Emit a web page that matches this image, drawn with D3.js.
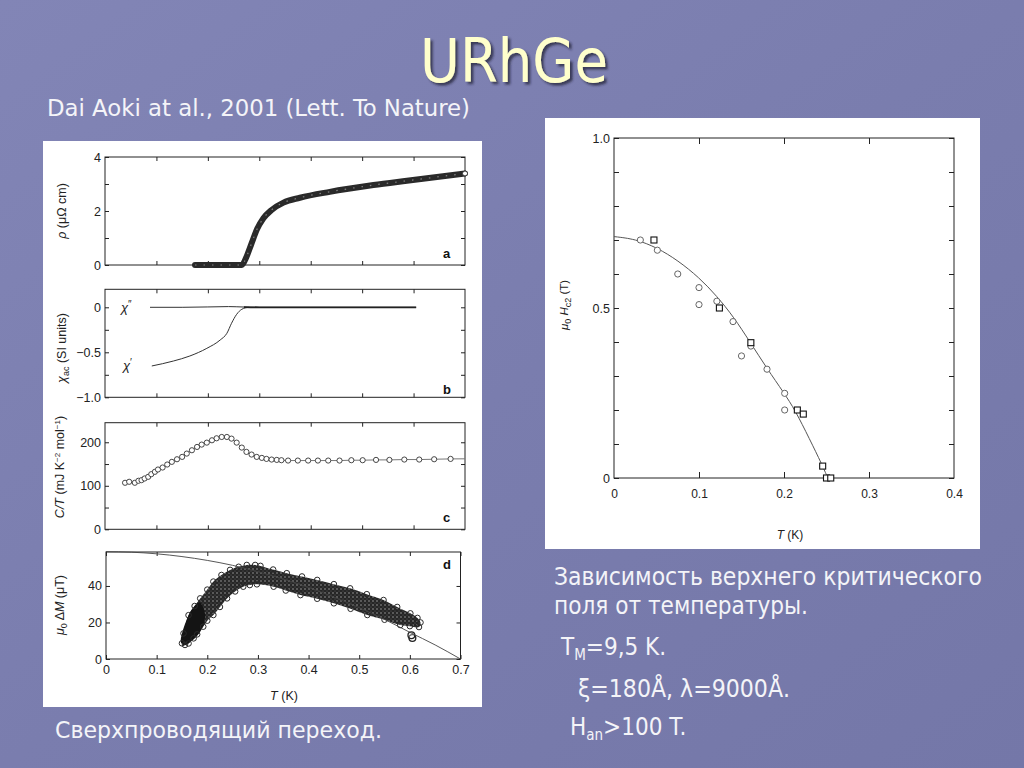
<!DOCTYPE html>
<html><head><meta charset="utf-8">
<script src="https://cdn.jsdelivr.net/npm/d3@7"></script>
<style>body{margin:0;overflow:hidden;background:#7a7cab}</style>
</head><body><svg id="c" width="1024" height="768"></svg>
<script>
// ---------- DATA ----------
// panel a: resistivity
const rhoT = [0.175,0.20,0.23,0.266,0.275,0.285,0.295,0.308,0.324,0.347,0.379,0.437,0.522,0.587,0.70];
const rhoV = [0,0,0,0,0.3,0.8,1.3,1.73,2.04,2.31,2.49,2.71,2.96,3.12,3.39];
// panel b: ac susceptibility
const chi1T = [0.091,0.133,0.165,0.198,0.224,0.237,0.246,0.256,0.266,0.279];
const chi1V = [-0.652,-0.597,-0.541,-0.456,-0.363,-0.289,-0.178,-0.078,-0.022,0];
const chi2T = [0.0875,0.15,0.20,0.24,0.27,0.30,0.40,0.50,0.605];
const chi2V = [0,0,0.004,0.008,0.003,0,0,0,0];
// panel c: C/T
const cT = [0.039,0.047,0.058,0.065,0.071,0.077,0.084,0.090,0.097,0.103,0.112,0.121,0.130,0.140,0.150,0.159,0.169,0.179,0.188,0.198,0.208,0.217,0.227,0.237,0.246,0.256,0.266,0.275,0.285,0.295,0.305,0.314,0.324,0.334,0.343,0.356,0.375,0.395,0.414,0.434,0.456,0.479,0.501,0.527,0.553,0.582,0.611,0.640,0.672,0.70];
const cV = [106.9,109.2,106.9,111.5,113,116.8,120.6,126.7,132.1,137.4,142,148.9,155,161,166.4,174,181.7,189.3,194.7,199.2,204.6,209.2,212.2,212.2,208.4,199.2,187.8,177.9,171.8,166.4,164.1,161.8,160.3,159.5,158.8,158,158,158,158,158,158,158.8,158.8,159.5,159.5,160.3,160.3,161,161.8,162];
// panel d: magnetisation cloud outline and line
const dmEdgeT = [0.150,0.153,0.163,0.175,0.186,0.200,0.212,0.228,0.245,0.262,0.278,0.2945,0.305,0.330,0.357,0.387,0.417,0.450,0.482,0.515,0.548,0.575,0.601,0.615,0.621,0.618,0.600,0.581,0.550,0.516,0.483,0.450,0.417,0.384,0.355,0.331,0.298,0.284,0.271,0.255,0.239,0.225,0.212,0.200,0.192,0.180,0.173,0.163,0.156];
const dmEdgeV = [8.6,14,24,29,33.2,38,42.4,46,48.8,50.5,51.5,51.5,51,49,47,45.2,43.3,41,38.7,35.5,32.3,28.5,25,22.5,20,17.5,18,18.6,21.5,24.1,27.5,30.5,33,35,37.5,39.6,40.9,40.5,39.6,37,33.2,28.5,24.1,21,17.7,13.5,11.3,8.5,7.7];
const dmDarkT = [0.148,0.160,0.172,0.185,0.196,0.190,0.178,0.165,0.155];
const dmDarkV = [9,22,28,31,24,17,12,9,7.5];
const dmExtraT = [0.605,0.603];
const dmExtraV = [11.5,13];
const dmLineT = [0,0.05,0.1,0.15,0.2,0.25,0.3,0.35,0.4,0.45,0.5,0.55,0.6,0.65,0.7];
const dmLineV = [58.8,58.5,57.6,56.1,54.0,51.3,47.8,43.8,39.2,33.9,28.1,21.7,14.6,7.7,0];
// right panel: Hc2
const hcCircT = [0.031,0.051,0.075,0.100,0.100,0.121,0.140,0.150,0.161,0.180,0.2008,0.2008];
const hcCircV = [0.70,0.67,0.60,0.56,0.51,0.52,0.46,0.359,0.388,0.32,0.249,0.20];
const hcSqT = [0.047,0.124,0.161,0.2157,0.2227,0.2455,0.250,0.255];
const hcSqV = [0.70,0.50,0.398,0.20,0.188,0.035,0,0];
const hcFitT = [0,0.025,0.051,0.075,0.1,0.121,0.141,0.16,0.18,0.2,0.213,0.23,0.245,0.2515];
const hcFitV = [0.71,0.703,0.677,0.64,0.59,0.535,0.473,0.40,0.322,0.25,0.20,0.115,0.038,0];
// ticks
const tTicksLeft = [0,0.1,0.2,0.3,0.4,0.5,0.6,0.7];
const aMajor=[0,2,4], aMinor=[1,3];
const bMajor=[0,-0.5,-1.0], bMinor=[-0.25,-0.75];
const cMajor=[0,100,200], cMinor=[50,150];
const dMajor=[0,20,40], dMinor=[];
const hcXTicks=[0,0.1,0.2,0.3,0.4];
const hcYMajor=[0,0.5,1.0], hcYMinor=[0.1,0.2,0.3,0.4,0.6,0.7,0.8,0.9];

// ---------- DRAW ----------
const svg = d3.select("#c");
const defs = svg.append("defs");
const bg = defs.append("linearGradient").attr("id","bg").attr("x1",0).attr("y1",0).attr("x2",1).attr("y2",1);
bg.append("stop").attr("offset",0).attr("stop-color","#8285b6");
bg.append("stop").attr("offset",0.5).attr("stop-color","#7a7dae");
bg.append("stop").attr("offset",1).attr("stop-color","#7477a8");
const pat = defs.append("pattern").attr("id","rings").attr("width",4).attr("height",4).attr("patternUnits","userSpaceOnUse");
pat.append("rect").attr("width",4).attr("height",4).attr("fill","#262626");
pat.append("circle").attr("cx",1).attr("cy",1).attr("r",0.75).attr("fill","#a5a5a5");
pat.append("circle").attr("cx",3).attr("cy",3).attr("r",0.5).attr("fill","#6a6a6a");
const sh = defs.append("filter").attr("id","tsh").attr("x","-10%").attr("y","-10%").attr("width","130%").attr("height","130%");
sh.append("feDropShadow").attr("dx",2.5).attr("dy",2.5).attr("stdDeviation",0.8).attr("flood-color","#202035").attr("flood-opacity",0.75);

svg.append("rect").attr("width",1024).attr("height",768).attr("fill","url(#bg)");

const slideFont = "'DejaVu Sans Condensed','DejaVu Sans',sans-serif";
const plotFont = "'Liberation Sans',Arial,sans-serif";

// title
svg.append("text").attr("x",514).attr("y",82).attr("text-anchor","middle")
  .attr("font-family",slideFont).attr("font-size",60).attr("fill","#ffffcc").attr("filter","url(#tsh)")
  .attr("textLength",188).attr("lengthAdjust","spacingAndGlyphs").text("URhGe");
function slideText(x,y,w,str,size){
  return svg.append("text").attr("x",x).attr("y",y).attr("font-family",slideFont)
    .attr("font-size",size||23).attr("fill","#f4f4f8")
    .attr("textLength",w).attr("lengthAdjust","spacingAndGlyphs").text(str);
}
slideText(47,116,423,"Dai Aoki at al., 2001 (Lett. To Nature)");
slideText(55,738,327,"Сверхпроводящий переход.");
slideText(554,585,428,"Зависимость верхнего критического",24);
slideText(554,614,254,"поля от температуры.",24);
const tm = svg.append("text").attr("x",561).attr("y",655).attr("font-family",slideFont).attr("font-size",24).attr("fill","#f4f4f8");
tm.append("tspan").text("T");
tm.append("tspan").attr("font-size",15).attr("dy",5).text("M");
tm.append("tspan").attr("dy",-5).text("=9,5 K.");
slideText(578,697,212,"ξ=180Å, λ=9000Å.",24);
const han = svg.append("text").attr("x",570).attr("y",735).attr("font-family",slideFont).attr("font-size",24).attr("fill","#f4f4f8");
han.append("tspan").text("H");
han.append("tspan").attr("font-size",15).attr("dy",5).text("an");
han.append("tspan").attr("dy",-5).text(">100 T.");

// panels
svg.append("rect").attr("x",43).attr("y",141).attr("width",439).attr("height",566).attr("fill","#fff");
svg.append("rect").attr("x",545).attr("y",118).attr("width",435).attr("height",431).attr("fill","#fff");

function frame(g, x, y, xt, yMaj, yMin, fmt, L, showX){
  const [x0,x1]=x.range(), [y0,y1]=y.range();
  const st = sel=>{sel.select(".domain").remove(); sel.selectAll("line").attr("stroke","#222");
    sel.selectAll("text").attr("font-family",plotFont).attr("font-size",12.5).attr("fill","#222");};
  g.append("g").attr("transform",`translate(${x0},0)`).call(d3.axisLeft(y).tickValues(yMaj).tickSize(-L.y).tickPadding(4).tickFormat(fmt)).call(st);
  g.append("g").attr("transform",`translate(${x0},0)`).call(d3.axisLeft(y).tickValues(yMin).tickSize(-L.ym).tickFormat("")).call(st);
  g.append("g").attr("transform",`translate(${x1},0)`).call(d3.axisRight(y).tickValues(yMaj.concat(yMin)).tickSize(-L.y).tickFormat("")).call(st);
  g.append("g").attr("transform",`translate(0,${y0})`).call(d3.axisBottom(x).tickValues(xt).tickSize(-L.x).tickPadding(L.pad||6).tickFormat(showX?L.xf:"")).call(st);
  g.append("g").attr("transform",`translate(0,${y1})`).call(d3.axisTop(x).tickValues(xt).tickSize(-L.x).tickFormat("")).call(st);
  g.append("rect").attr("x",x0).attr("y",y1).attr("width",x1-x0).attr("height",y0-y1).attr("fill","none").attr("stroke","#222").attr("stroke-width",1);
}
function yLabel(x,y,build){
  const t = svg.append("text").attr("transform",`translate(${x},${y}) rotate(-90)`).attr("text-anchor","middle")
    .attr("font-family",plotFont).attr("font-size",12.5).attr("fill","#222");
  build(t); return t;
}
function panelLetter(x,y,s){svg.append("text").attr("x",x).attr("y",y).attr("font-family",plotFont).attr("font-weight","bold").attr("font-size",13).attr("fill","#111").text(s);}
const fx = d3.scaleLinear().domain([0,0.7]).range([105,465]);
const innerTicks = tTicksLeft.slice(1,-1);
const xf = d=> d===0?"0":d3.format(".1f")(d);

// ---- a ----
const ya = d3.scaleLinear().domain([0,4]).range([265,157]);
const ga = svg.append("g");
frame(ga,fx,ya,innerTicks,aMajor,aMinor,d3.format("d"),{x:4,y:4,ym:4},false);
const lineA = d3.line().x(i=>fx(rhoT[i])).y(i=>ya(rhoV[i])).curve(d3.curveMonotoneX);
const idxA = d3.range(rhoT.length);
ga.append("path").attr("d",lineA(idxA)).attr("fill","none").attr("stroke","#2a2a2a").attr("stroke-width",6).attr("stroke-linecap","round");
ga.append("path").attr("d",lineA(idxA)).attr("fill","none").attr("stroke","#aaa").attr("stroke-width",1.2).attr("stroke-dasharray","1.5 7").attr("opacity",0.7);
ga.append("circle").attr("cx",fx(rhoT[rhoT.length-1])).attr("cy",ya(rhoV[rhoV.length-1])).attr("r",2.5).attr("fill","#fff").attr("stroke","#333");
yLabel(66,211,t=>{t.append("tspan").attr("font-style","italic").text("ρ");t.append("tspan").text("  (μΩ cm)");});
panelLetter(443,258,"a");

// ---- b ----
const yb = d3.scaleLinear().domain([-1.0,0.2]).range([397.3,289.3]);
const gb = svg.append("g");
frame(gb,fx,yb,innerTicks,bMajor,bMinor,d=>d===0?"0":d3.format(".1f")(d),{x:4,y:4,ym:4},false);
const lineB = d3.line().curve(d3.curveMonotoneX);
gb.append("path").attr("d",lineB(chi1T.map((t,i)=>[fx(t),yb(chi1V[i])]))).attr("fill","none").attr("stroke","#333").attr("stroke-width",1);
gb.append("path").attr("d",lineB(chi2T.map((t,i)=>[fx(t),yb(chi2V[i])]))).attr("fill","none").attr("stroke","#333").attr("stroke-width",1);
gb.append("path").attr("d",lineB(chi2T.map((t,i)=>[t,chi2V[i]]).filter(p=>p[0]>=0.27).map(p=>[fx(p[0]),yb(p[1])]))).attr("fill","none").attr("stroke","#222").attr("stroke-width",1.8);
[[121,312,"″"],[123,370,"′"]].forEach(([x,y,s])=>{
  const t=svg.append("text").attr("x",x).attr("y",y).attr("font-family",plotFont).attr("font-size",13).attr("fill","#222");
  t.append("tspan").attr("font-style","italic").text("χ"); t.append("tspan").attr("font-size",10).attr("dy",-4).text(s);
});
yLabel(66,348,t=>{t.append("tspan").attr("font-style","italic").text("χ");t.append("tspan").attr("font-size",9).attr("dy",3).text("ac");t.append("tspan").attr("dy",-3).text(" (SI units)");});
panelLetter(443,394,"b");

// ---- c ----
const yc = d3.scaleLinear().domain([0,245]).range([529.3,422.7]);
const gc = svg.append("g");
frame(gc,fx,yc,innerTicks,cMajor,cMinor,d3.format("d"),{x:4,y:4,ym:4},false);
gc.append("path").attr("d",d3.line()(cT.map((t,i)=>[fx(t),yc(cV[i])]))).attr("fill","none").attr("stroke","#777").attr("stroke-width",1);
gc.selectAll("circle.c").data(cT.slice(0,-1)).join("circle").attr("cx",d=>fx(d)).attr("cy",(d,i)=>yc(cV[i])).attr("r",2.6)
  .attr("fill","#fff").attr("stroke","#333").attr("stroke-width",0.9);
yLabel(64,467,t=>{t.append("tspan").attr("font-style","italic").text("C/T");t.append("tspan").text(" (mJ K");
  t.append("tspan").attr("font-size",8).attr("dy",-4).text("−2");t.append("tspan").attr("dy",4).text(" mol");
  t.append("tspan").attr("font-size",8).attr("dy",-4).text("−1");t.append("tspan").attr("dy",4).text(")");});
panelLetter(443,522,"c");

// ---- d ----
const fxd = d3.scaleLinear().domain([0,0.7]).range([106,460.5]);
const yd = d3.scaleLinear().domain([0,58.6]).range([659,552]);
const gd = svg.append("g");
frame(gd,fxd,yd,tTicksLeft,dMajor,dMinor,d3.format("d"),{x:4,y:4,ym:4,pad:6,xf:xf},true);
const edgePts = dmEdgeT.map((t,i)=>[fxd(t),yd(dmEdgeV[i])]);
gd.append("path").attr("d",d3.line().curve(d3.curveCatmullRomClosed)(edgePts)).attr("fill","url(#rings)");
gd.append("path").attr("d",d3.line().curve(d3.curveCatmullRomClosed)(dmDarkT.map((t,i)=>[fxd(t),yd(dmDarkV[i])]))).attr("fill","#141414");
gd.selectAll("circle.e").data(edgePts).join("circle").attr("cx",d=>d[0]).attr("cy",d=>d[1]).attr("r",2.8).attr("fill","none").attr("stroke","#2a2a2a").attr("stroke-width",1);
gd.selectAll("circle.x").data(dmExtraT).join("circle").attr("cx",d=>fxd(d)).attr("cy",(d,i)=>yd(dmExtraV[i])).attr("r",3.4).attr("fill","#fff").attr("fill-opacity",0.3).attr("stroke","#222").attr("stroke-width",1.3);
gd.append("path").attr("d",d3.line().curve(d3.curveMonotoneX)(dmLineT.map((t,i)=>[fxd(t),yd(dmLineV[i])]))).attr("fill","none").attr("stroke","#444").attr("stroke-width",0.9);
yLabel(64,605,t=>{t.append("tspan").attr("font-style","italic").text("μ");t.append("tspan").attr("font-size",9).attr("dy",3).text("0");
  t.append("tspan").attr("dy",-3).text(" Δ");t.append("tspan").attr("font-style","italic").text("M");t.append("tspan").text(" (μT)");});
panelLetter(443,569,"d");
svg.append("text").attr("x",284).attr("y",700).attr("text-anchor","middle").attr("font-family",plotFont).attr("font-size",12.5).attr("fill","#222")
  .call(t=>{t.append("tspan").attr("font-style","italic").text("T");t.append("tspan").text(" (K)");});

// ---- Hc2 ----
const hx = d3.scaleLinear().domain([0,0.4]).range([614,954]);
const hy = d3.scaleLinear().domain([0,1]).range([478,138]);
const gh = svg.append("g");
frame(gh,hx,hy,hcXTicks.slice(1,-1),hcYMajor,hcYMinor,d=>d===0?"0":d3.format(".1f")(d),{x:6,y:5,ym:5},false);
gh.append("g").attr("transform","translate(0,478)").call(d3.axisBottom(hx).tickValues(hcXTicks).tickSize(0).tickPadding(11).tickFormat(xf))
  .call(s=>{s.select(".domain").remove();s.selectAll("text").attr("font-family",plotFont).attr("font-size",12).attr("fill","#222");});
gh.append("path").attr("d",d3.line().curve(d3.curveBasis)(hcFitT.map((t,i)=>[hx(t),hy(hcFitV[i])]))).attr("fill","none").attr("stroke","#555").attr("stroke-width",1);
gh.selectAll("circle.h").data(hcCircT).join("circle").attr("cx",d=>hx(d)).attr("cy",(d,i)=>hy(hcCircV[i])).attr("r",3.1).attr("fill","#fff").attr("stroke","#666").attr("stroke-width",1);
gh.selectAll("rect.h").data(hcSqT).join("rect").attr("x",d=>hx(d)-3).attr("y",(d,i)=>hy(hcSqV[i])-3).attr("width",6).attr("height",6).attr("fill","#fff").attr("stroke","#111").attr("stroke-width",1.1);
yLabel(568,305,t=>{t.append("tspan").attr("font-style","italic").text("μ");t.append("tspan").attr("font-size",9).attr("dy",3).text("0");
  t.append("tspan").attr("dy",-3).attr("font-style","italic").text(" H");t.append("tspan").attr("font-size",9).attr("dy",3).text("c2");t.append("tspan").attr("dy",-3).text(" (T)");}).attr("font-size",11.5);
svg.append("text").attr("x",790).attr("y",539).attr("text-anchor","middle").attr("font-family",plotFont).attr("font-size",12).attr("fill","#222")
  .call(t=>{t.append("tspan").attr("font-style","italic").text("T");t.append("tspan").text(" (K)");});
</script></body></html>
